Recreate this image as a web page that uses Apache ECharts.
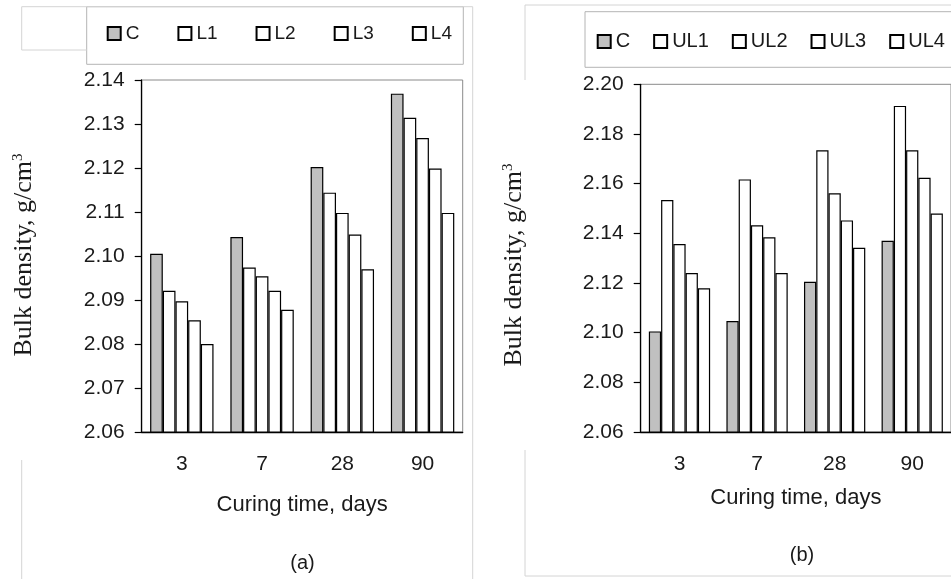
<!DOCTYPE html>
<html>
<head>
<meta charset="utf-8">
<script src="https://cdn.jsdelivr.net/npm/echarts@6/dist/echarts.min.js"></script>
<style>
html,body{margin:0;padding:0;background:#fff;}
#chart{width:951px;height:579px;}
</style>
</head>
<body>
<div id="chart"></div>
<script>
// ---- data ----
var categories = ['3', '7', '28', '90'];
var namesA = ['C', 'L1', 'L2', 'L3', 'L4'];
var namesB = ['C', 'UL1', 'UL2', 'UL3', 'UL4'];
var cA  = [2.1005, 2.1043, 2.1202, 2.1369];
var l1  = [2.0921, 2.0974, 2.1144, 2.1314];
var l2  = [2.0897, 2.0954, 2.1098, 2.1268];
var l3  = [2.0854, 2.0921, 2.1049, 2.1199];
var l4  = [2.0800, 2.0878, 2.0970, 2.1098];
var cB  = [2.1005, 2.1047, 2.1205, 2.1370];
var ul1 = [2.1534, 2.1617, 2.1734, 2.1913];
var ul2 = [2.1357, 2.1432, 2.1561, 2.1734];
var ul3 = [2.1240, 2.1384, 2.1452, 2.1624];
var ul4 = [2.1179, 2.1240, 2.1342, 2.1480];
var yTicksA = {min: 2.06, max: 2.14, interval: 0.01};
var yTicksB = {min: 2.06, max: 2.20, interval: 0.02};

var SANS = '"Liberation Sans", Arial, sans-serif';
var SERIF = '"Liberation Serif", "Times New Roman", serif';
var TXT = '#1a1a1a';

function mkSeries(name, data, axisIdx, isC, gap) {
  return {
    type: 'bar', name: name, data: data,
    xAxisIndex: axisIdx, yAxisIndex: axisIdx,
    barGap: '0%', barCategoryGap: gap,
    itemStyle: {color: isC ? '#c0c0c0' : '#ffffff', borderColor: '#000', borderWidth: 1.2},
    emphasis: {disabled: true},
    animation: false
  };
}
var seriesA = [cA, l1, l2, l3, l4].map(function (d, i) { return mkSeries(namesA[i], d, 0, i === 0, '21%'); });
var seriesB = [cB, ul1, ul2, ul3, ul4].map(function (d, i) { return mkSeries(namesB[i], d, 1, i === 0, '21%'); });

function xAxis(gridIndex, nameGap) {
  return {
    type: 'category', gridIndex: gridIndex, data: categories,
    axisLine: {lineStyle: {color: '#000', width: 1.3}},
    axisTick: {length: 8, lineStyle: {color: '#000', width: 1.2}},
    axisLabel: {color: TXT, fontFamily: SANS, fontSize: 21, margin: 22},
    name: 'Curing time, days', nameLocation: 'middle', nameGap: nameGap,
    nameTextStyle: {color: TXT, fontFamily: SANS, fontSize: 22}
  };
}
function yAxis(gridIndex, t) {
  return {
    type: 'value', gridIndex: gridIndex, min: t.min, max: t.max, interval: t.interval,
    axisLine: {show: true, lineStyle: {color: '#000', width: 1.3}},
    axisTick: {show: true, length: 7, lineStyle: {color: '#000', width: 1.2}},
    splitLine: {show: false},
    axisLabel: {color: TXT, fontFamily: SANS, fontSize: 21, margin: 17,
      formatter: function (v) { return v.toFixed(2); }}
  };
}
function line(x1, y1, x2, y2) {
  return {type: 'line', shape: {x1: x1, y1: y1, x2: x2, y2: y2}, style: {stroke: '#d4d4d4', lineWidth: 1}, silent: true};
}

var chart = echarts.init(document.getElementById('chart'), null, {renderer: 'canvas'});
chart.setOption({
  backgroundColor: '#fff',
  animation: false,
  grid: [
    {left: 141.7, top: 80, width: 321, height: 352, show: true, borderColor: '#8a8a8a', borderWidth: 1, backgroundColor: 'transparent'},
    {left: 640.7, top: 84.3, width: 311, height: 347.7, show: true, borderColor: '#8a8a8a', borderWidth: 1, backgroundColor: 'transparent'}
  ],
  xAxis: [xAxis(0, 62), xAxis(1, 55)],
  yAxis: [yAxis(0, yTicksA), yAxis(1, yTicksB)],
  legend: [
    {data: namesA, left: 106.7, top: 24, padding: 0, itemWidth: 13, itemHeight: 13, itemGap: 38, icon: 'rect',
      selectedMode: false, textStyle: {color: TXT, fontFamily: SANS, fontSize: 19}},
    {data: namesB, left: 596.7, top: 31.5, padding: 0, itemWidth: 13, itemHeight: 13, itemGap: 23, icon: 'rect',
      selectedMode: false, textStyle: {color: TXT, fontFamily: SANS, fontSize: 20}}
  ],
  graphic: [
    // faint panel frames
    line(21.7, 6.7, 472.7, 6.7),
    line(472.7, 6.7, 472.7, 579),
    line(21.7, 6.7, 21.7, 50),
    line(21.7, 50, 86.7, 50),
    line(21.7, 460, 21.7, 579),
    line(525, 5, 951, 5),
    line(525, 5, 525, 80),
    line(525, 450, 525, 576),
    line(525, 576, 951, 576),
    // legend boxes
    {type: 'rect', shape: {x: 86.7, y: 6.7, width: 376.6, height: 57.6}, style: {fill: 'none', stroke: '#b4b4b4', lineWidth: 1}, silent: true, z: -1},
    {type: 'rect', shape: {x: 585, y: 11.7, width: 380, height: 55.6}, style: {fill: 'none', stroke: '#b4b4b4', lineWidth: 1}, silent: true, z: -1},
    // y-axis titles
    {type: 'text', x: 24, y: 255, rotation: Math.PI / 2,
      style: {text: 'Bulk density, g/cm{sup|3}', align: 'center', verticalAlign: 'middle', fill: TXT, font: '26px ' + SERIF,
        rich: {sup: {fontSize: 15, fontFamily: SERIF, verticalAlign: 'top', fill: TXT}}}},
    {type: 'text', x: 514, y: 265, rotation: Math.PI / 2,
      style: {text: 'Bulk density, g/cm{sup|3}', align: 'center', verticalAlign: 'middle', fill: TXT, font: '26px ' + SERIF,
        rich: {sup: {fontSize: 15, fontFamily: SERIF, verticalAlign: 'top', fill: TXT}}}},
    // panel captions
    {type: 'text', x: 302.5, y: 563, style: {text: '(a)', align: 'center', verticalAlign: 'middle', fill: TXT, font: '20px ' + SANS}},
    {type: 'text', x: 802, y: 555, style: {text: '(b)', align: 'center', verticalAlign: 'middle', fill: TXT, font: '20px ' + SANS}}
  ],
  series: seriesA.concat(seriesB)
});
</script>
</body>
</html>
